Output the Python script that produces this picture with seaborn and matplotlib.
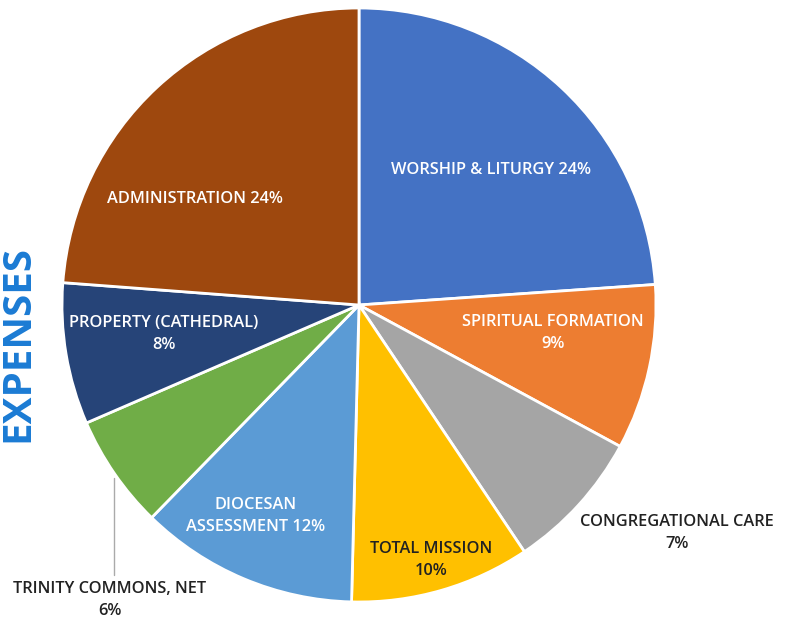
import matplotlib.pyplot as plt
import seaborn as sns

sns.set_theme(style='white')
plt.rcParams['font.family'] = ['Open Sans', 'DejaVu Sans']

# data (shares; labels as printed)
categories = ['WORSHIP & LITURGY', 'SPIRITUAL FORMATION', 'CONGREGATIONAL CARE', 'TOTAL MISSION',
              'DIOCESAN ASSESSMENT', 'TRINITY COMMONS, NET', 'PROPERTY (CATHEDRAL)', 'ADMINISTRATION']
shares = [23.9, 9.0, 7.7, 9.8, 11.9, 6.2, 7.7, 23.8]
label_texts = ['WORSHIP & LITURGY 24%', 'SPIRITUAL FORMATION\n9%', 'CONGREGATIONAL CARE\n7%',
               'TOTAL MISSION\n10%', 'DIOCESAN\nASSESSMENT 12%', 'TRINITY COMMONS, NET\n6%',
               'PROPERTY (CATHEDRAL)\n8%', 'ADMINISTRATION 24%']
colors = ['#4472C4', '#ED7D31', '#A5A5A5', '#FFC000', '#5B9BD5', '#70AD47', '#264478', '#9E480E']

# layout (pixel coords, y from top)
W, H = 790, 622
label_pos = [(491, 170), (553, 333), (677, 533), (431, 560), (256, 516), (110, 600), (164, 334), (195, 199)]
label_col = ['white', 'white', '#222222', '#222222', 'white', '#222222', 'white', 'white']

fig = plt.figure(figsize=(7.9, 6.22), dpi=100)
ax = fig.add_axes([0, 0, 1, 1])
ax.pie(shares, colors=colors, startangle=90, counterclock=False,
       center=(359, H - 305), radius=297,
       wedgeprops=dict(edgecolor='white', linewidth=2))
ax.set_xlim(0, W)
ax.set_ylim(0, H)
ax.set_aspect('equal')
ax.axis('off')

for txt, (x, y), c in zip(label_texts, label_pos, label_col):
    ax.text(x, H - y, txt, ha='center', va='center', color=c, fontsize=11.8,
            fontweight='semibold', linespacing=1.45)

# leader line for Trinity Commons
ax.plot([114, 114], [H - 478, H - 575], color='#AAAAAA', linewidth=1)

ax.text(18, H - 344, 'EXPENSES', rotation=90, ha='center', va='center',
        color='#1B7BD4', fontsize=29, fontweight='bold')

fig.savefig('out.png', dpi=100)
